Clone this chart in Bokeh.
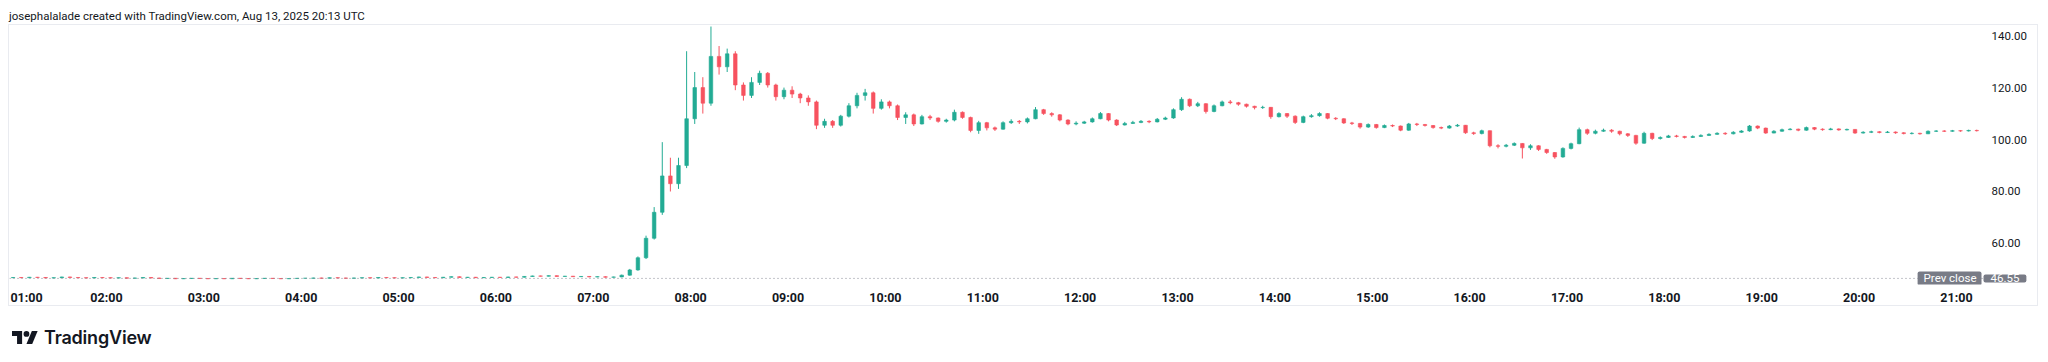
from bokeh.plotting import figure
from bokeh.models import (ColumnDataSource, Range1d, FixedTicker, NumeralTickFormatter,
                          Label, Div)
from bokeh.layouts import column
from bokeh.embed import file_html
from bokeh.resources import INLINE

# ---------------- data ----------------
title_text = "josephalalade created with TradingView.com, Aug 13, 2025 20:13 UTC"
brand_text = "TradingView"

start_minute = 60        # first bar opens 01:00 (minutes after midnight)
bar_minutes = 5          # 5-minute bars
first_open = 46.8
prev_close = 46.55

close = [
    46.9, 46.8, 47.0, 46.9, 46.7, 46.8, 47.1, 46.9, 46.8, 46.7, 46.9, 46.8,
    46.7, 46.8, 46.6, 46.7, 46.9, 46.7, 46.5, 46.6, 46.4, 46.5, 46.6, 46.5,
    46.4, 46.5, 46.4, 46.6, 46.5, 46.4, 46.5, 46.6, 46.5, 46.4, 46.5, 46.6,
    46.6, 46.7, 46.6, 46.8, 46.7, 46.6, 46.7, 46.8, 46.7, 46.9, 46.8, 46.7,
    46.8, 46.9, 47.1, 46.9, 46.8, 47.0, 47.2, 46.9, 47.0, 46.8, 46.9, 47.0,
    46.9, 47.1, 47.0, 47.3, 47.5, 47.4, 47.6, 47.3, 47.4, 47.2, 47.3, 47.1,
    47.2, 47.0, 47.1, 47.8, 49.8, 54.5, 62.0, 72.0, 86.0, 83.0, 90.0, 108.0,
    120.0, 114.0, 132.0, 128.0, 133.0, 121.0, 117.0, 122.0, 125.5, 121.0, 116.5, 119.0,
    117.5, 116.0, 114.5, 105.5, 107.0, 105.5, 109.0, 113.0, 117.0, 118.0, 112.0, 114.5,
    113.0, 108.5, 109.5, 106.0, 108.8, 108.3, 107.0, 107.5, 110.5, 108.5, 103.5, 106.5,
    104.5, 104.0, 106.5, 107.0, 106.8, 108.0, 111.5, 110.0, 109.5, 107.5, 106.0, 106.3,
    106.8, 108.0, 110.0, 107.5, 105.6, 106.2, 106.6, 107.0, 106.8, 107.8, 108.3, 111.5,
    115.5, 113.0, 113.8, 110.8, 113.0, 114.5, 114.2, 113.6, 112.8, 112.3, 112.4, 108.8,
    110.0, 109.0, 106.6, 108.8, 109.2, 110.0, 108.2, 108.0, 106.4, 106.2, 104.8, 105.8,
    104.6, 105.4, 105.2, 103.6, 106.0, 105.8, 105.4, 104.6, 104.4, 105.2, 105.5, 102.6,
    102.3, 103.4, 97.6, 97.4, 97.8, 98.5, 96.8, 97.6, 96.2, 95.0, 93.3, 96.6,
    98.4, 103.8, 102.4, 103.2, 103.6, 103.2, 102.2, 101.6, 98.6, 102.4, 100.4, 100.8,
    101.4, 101.2, 100.8, 101.2, 101.6, 102.0, 102.4, 102.2, 102.8, 103.3, 105.2, 104.4,
    102.5, 103.2, 103.8, 104.0, 103.6, 104.6, 104.0, 103.8, 104.1, 103.7, 103.9, 102.5,
    102.8, 103.0, 102.7, 102.9, 102.6, 102.3, 102.4, 102.2, 103.2, 103.3, 103.2, 103.4,
    103.3, 103.5, 103.4,
]

high = [
    47.0, 47.0, 47.1, 47.1, 47.0, 46.9, 47.2, 47.2, 47.0, 46.9, 47.0, 47.0,
    46.9, 46.9, 46.9, 46.8, 47.0, 47.0, 46.8, 46.7, 46.7, 46.6, 46.7, 46.7,
    46.6, 46.6, 46.6, 46.7, 46.7, 46.6, 46.6, 46.7, 46.7, 46.6, 46.6, 46.7,
    46.7, 46.8, 46.8, 46.9, 46.9, 46.8, 46.8, 46.9, 46.9, 47.0, 47.0, 46.9,
    46.9, 47.0, 47.2, 47.2, 47.0, 47.1, 47.3, 47.3, 47.1, 47.1, 47.0, 47.1,
    47.1, 47.2, 47.2, 47.4, 47.6, 47.6, 47.7, 47.7, 47.5, 47.5, 47.4, 47.4,
    47.3, 47.3, 47.2, 48.0, 50.2, 55.0, 63.0, 74.0, 99.0, 93.0, 93.0, 134.0,
    126.0, 124.0, 143.5, 136.0, 135.0, 134.0, 122.0, 124.0, 126.5, 126.0, 121.5, 120.0,
    120.5, 118.0, 117.0, 115.0, 108.0, 107.5, 109.5, 114.0, 118.0, 119.5, 118.5, 115.5,
    115.0, 113.5, 110.5, 110.0, 109.5, 109.5, 108.5, 108.0, 111.5, 110.8, 108.8, 107.2,
    106.8, 105.0, 107.0, 107.8, 107.5, 108.5, 112.5, 111.8, 110.5, 109.8, 107.8, 107.0,
    107.2, 108.5, 110.6, 110.2, 107.8, 106.8, 107.2, 107.5, 107.4, 108.3, 108.8, 112.0,
    116.3, 115.8, 114.5, 114.0, 113.5, 115.0, 115.2, 114.5, 113.8, 113.0, 113.0, 112.5,
    110.5, 110.2, 109.3, 109.2, 109.8, 110.5, 110.2, 108.6, 108.2, 106.8, 106.4, 106.2,
    106.0, 105.8, 105.8, 105.4, 106.4, 106.4, 106.0, 105.6, 105.0, 105.6, 106.0, 105.6,
    103.0, 103.8, 103.5, 98.2, 98.3, 98.9, 98.6, 98.2, 97.8, 96.4, 95.2, 97.0,
    98.8, 104.6, 104.2, 103.8, 104.2, 104.0, 103.4, 102.5, 101.8, 103.0, 102.6, 101.2,
    101.8, 101.8, 101.4, 101.6, 102.0, 102.4, 102.8, 102.8, 103.2, 103.6, 105.6, 105.4,
    104.6, 103.6, 104.2, 104.4, 104.2, 105.0, 104.8, 104.3, 104.5, 104.3, 104.2, 104.0,
    103.2, 103.4, 103.2, 103.3, 103.1, 102.8, 102.8, 102.6, 103.5, 103.6, 103.6, 103.7,
    103.6, 103.8, 103.8,
]

low = [
    46.7, 46.7, 46.7, 46.8, 46.6, 46.6, 46.7, 46.8, 46.7, 46.6, 46.6, 46.7,
    46.6, 46.6, 46.5, 46.5, 46.6, 46.6, 46.4, 46.4, 46.3, 46.3, 46.4, 46.4,
    46.3, 46.3, 46.3, 46.3, 46.4, 46.3, 46.3, 46.4, 46.4, 46.3, 46.3, 46.4,
    46.5, 46.5, 46.5, 46.5, 46.6, 46.5, 46.5, 46.6, 46.6, 46.6, 46.7, 46.6,
    46.6, 46.7, 46.8, 46.8, 46.7, 46.7, 46.9, 46.8, 46.8, 46.7, 46.7, 46.8,
    46.8, 46.8, 46.9, 46.9, 47.2, 47.3, 47.3, 47.2, 47.2, 47.1, 47.1, 47.0,
    47.0, 46.9, 46.9, 47.0, 47.6, 49.5, 54.0, 61.5, 71.0, 80.0, 81.0, 89.0,
    106.0, 110.0, 113.0, 125.0, 126.0, 119.0, 115.0, 116.0, 121.0, 120.0, 115.0, 115.5,
    116.0, 114.0, 113.0, 104.0, 104.5, 104.5, 105.0, 108.5, 112.0, 115.0, 110.0, 111.5,
    112.0, 107.5, 106.0, 105.2, 105.8, 107.5, 106.5, 106.5, 107.0, 108.0, 102.8, 102.2,
    103.5, 103.3, 103.8, 106.0, 106.0, 106.2, 107.8, 109.5, 108.8, 107.0, 105.5, 105.5,
    106.0, 106.5, 107.8, 107.0, 105.2, 105.4, 106.0, 106.3, 106.3, 106.6, 107.5, 108.0,
    111.0, 112.5, 112.5, 110.0, 110.5, 112.8, 113.6, 113.0, 112.3, 111.6, 111.8, 108.0,
    108.5, 108.3, 106.0, 106.3, 108.4, 108.8, 107.8, 107.5, 106.0, 105.6, 104.2, 104.5,
    104.2, 104.4, 104.8, 103.2, 103.4, 105.2, 105.0, 104.2, 104.0, 104.2, 104.9, 102.2,
    101.8, 102.0, 97.0, 96.6, 97.0, 97.5, 92.7, 96.0, 95.6, 94.5, 92.6, 93.0,
    96.2, 98.2, 101.8, 102.0, 103.0, 102.6, 101.6, 101.0, 98.0, 98.4, 99.8, 100.0,
    100.6, 100.8, 100.4, 100.6, 101.0, 101.4, 101.8, 101.8, 102.0, 102.6, 103.0, 104.0,
    102.2, 102.4, 103.0, 103.6, 103.2, 103.4, 103.6, 103.4, 103.6, 103.4, 103.5, 102.2,
    102.3, 102.5, 102.4, 102.5, 102.2, 102.0, 102.0, 101.9, 102.1, 102.9, 102.9, 103.0,
    103.0, 103.1, 103.1,
]

price_ticks = [60, 80, 100, 120, 140]
time_tick_minutes = [60 * h for h in range(1, 22)]
time_tick_labels = ["01:00", "02:00", "03:00", "04:00", "05:00", "06:00", "07:00",
                    "08:00", "09:00", "10:00", "11:00", "12:00", "13:00", "14:00",
                    "15:00", "16:00", "17:00", "18:00", "19:00", "20:00", "21:00"]

# ---------------- styling / layout ----------------
UP = "#22ab94"
DOWN = "#f7525f"
TEXT = "#131722"
BADGE = "#787b86"
FONT = "Roboto"

W, H = 2030, 282          # plus 1px css border on each side -> 2032 x 284
BB = 23                   # time-scale strip height
PRICE_SCALE_W = 57        # price-scale strip width (inside the frame)
px_per_min = 1.6228
x_start = 60.25
x_end = x_start + W / px_per_min
price_scale_left = x_end - PRICE_SCALE_W / px_per_min
y_start, y_end = 44.2, 143.9

# bars: open = previous bar's close
opens = [first_open] + close[:-1]
t_open = [start_minute + bar_minutes * i for i in range(len(close))]
x_mid = [t + bar_minutes / 2 for t in t_open]
colors = [UP if c >= o else DOWN for o, c in zip(opens, close)]
src = ColumnDataSource(dict(
    x=x_mid, open=opens, close=close, high=high, low=low,
    top=[max(o, c) for o, c in zip(opens, close)],
    bottom=[min(o, c) for o, c in zip(opens, close)],
    color=colors,
))

p = figure(width=W, height=H, x_range=Range1d(x_start, x_end),
           y_range=Range1d(y_start, y_end), y_axis_location="right",
           toolbar_location=None, output_backend="svg",
           min_border_left=0, min_border_top=0, min_border_right=0,
           min_border_bottom=BB, outline_line_color=None,
           background_fill_color="white", border_fill_color="white")
p.styles = {"border": "1px solid #e9ebf0"}
p.grid.visible = False

p.segment(x0="x", y0="low", x1="x", y1="high", source=src, line_color="color", line_width=1)
p.vbar(x="x", width=bar_minutes * 0.44, top="top", bottom="bottom", source=src,
       fill_color="color", line_color="color", line_width=0.6)

# previous close dotted line across the chart area
p.segment(x0=[x_start], y0=[prev_close], x1=[price_scale_left], y1=[prev_close],
          line_color="#868993", line_dash="1 3", line_width=1)

half_label = 17 / px_per_min
tick_pos = [round(max(m, x_start + half_label), 2) for m in time_tick_minutes]

xa = p.xaxis[0]
xa.ticker = FixedTicker(ticks=tick_pos, minor_ticks=[])
xa.major_label_overrides = {t: lab for t, lab in zip(tick_pos, time_tick_labels)}
xa.axis_line_color = None
xa.major_tick_line_color = None
xa.minor_tick_line_color = None
xa.major_tick_out = 0
xa.major_tick_in = 0
xa.major_label_standoff = 5
xa.major_label_text_font = FONT
xa.major_label_text_font_size = "12.5px"
xa.major_label_text_font_style = "bold"
xa.major_label_text_color = TEXT

ya = p.yaxis[0]
ya.fixed_location = price_scale_left
ya.ticker = FixedTicker(ticks=price_ticks, minor_ticks=[])
ya.formatter = NumeralTickFormatter(format="0.00")
ya.axis_line_color = None
ya.major_tick_line_color = None
ya.minor_tick_line_color = None
ya.major_tick_out = 0
ya.major_tick_in = 0
ya.major_label_standoff = 9
ya.major_label_text_align = "left"
ya.major_label_text_font = FONT
ya.major_label_text_font_size = "11.5px"
ya.major_label_text_color = TEXT

p.add_layout(Label(x=price_scale_left, y=prev_close, x_offset=-1,
                   text="Prev close", text_align="right", text_baseline="middle",
                   text_color="white", text_font=FONT, text_font_size="11.5px",
                   background_fill_color=BADGE, padding=(6, 5, 0, 0),
                   border_radius=2))
p.add_layout(Label(x=price_scale_left, y=prev_close, x_offset=1,
                   text=f"{prev_close:.2f}", text_align="left", text_baseline="middle",
                   text_color="white", text_font=FONT, text_font_size="11.5px",
                   background_fill_color=BADGE, padding=(7, 7, 0, 0),
                   border_radius=2))

title_div = Div(
    text=f'<div style="font-family:Roboto;font-size:11.5px;line-height:12px;'
         f'color:{TEXT};padding-left:1px;white-space:nowrap">{title_text}</div>',
    width=2032, height=16, margin=(0, 0, 0, 0))

logo_svg = ('<svg width="26" height="13" viewBox="0 4 36 18" style="margin-right:6px">'
            '<path fill="#131722" d="M14 22H7V11H0V4h14v18z"/>'
            '<path fill="#131722" d="M28 22h-8l7.5-18h8L28 22z"/>'
            '<circle fill="#131722" cx="20" cy="8" r="4"/></svg>')
logo_div = Div(
    text=f'<div style="display:flex;align-items:center;padding:19px 0 0 4px;">{logo_svg}'
         f'<span style="font-family:Inter;font-weight:600;font-size:18px;color:{TEXT};'
         f'letter-spacing:-0.2px">{brand_text}</span></div>',
    width=2032, height=46, margin=(0, 0, 0, 0))

layout = column(title_div, p, logo_div, spacing=0, margin=(8, 8, 8, 8))

open("out.html", "w").write(file_html(layout, INLINE, "chart"))
